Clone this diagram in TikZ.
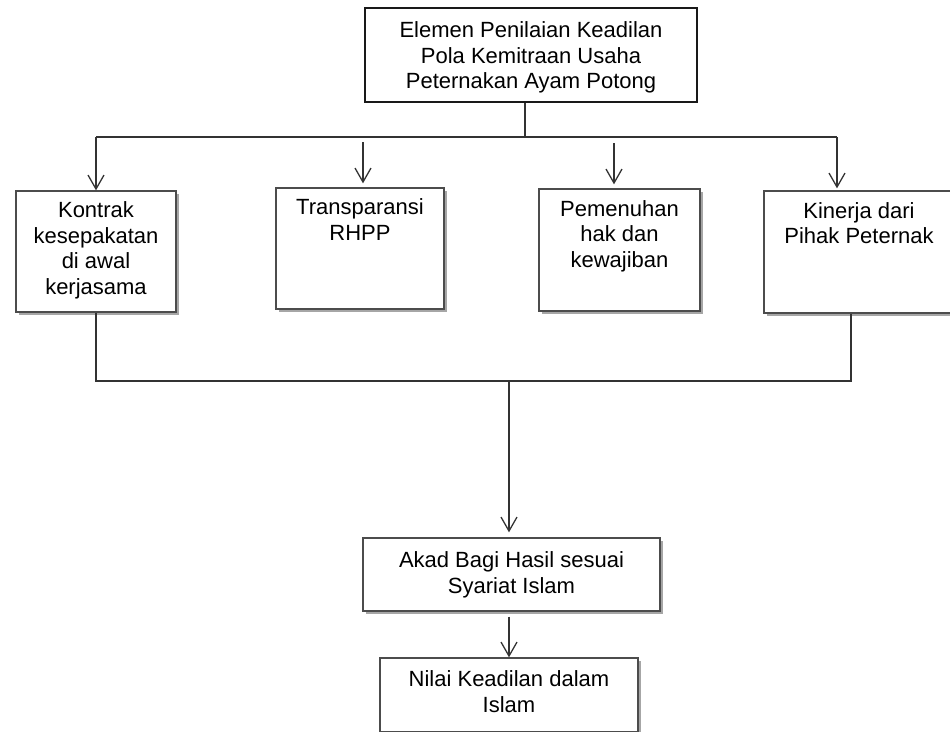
\documentclass[tikz,border=0pt]{standalone}
\usepackage{fontspec}
\setmainfont{Liberation Sans}
\usetikzlibrary{arrows.meta,shadows}
\newcommand{\bxt}[4]{\parbox[c][#1][t]{#2}{\centering\vspace*{#3}#4\par}}
\begin{document}
\begin{tikzpicture}[x=1pt,y=-1pt,
  txt/.style={font=\fontsize{22pt}{25.5pt}\selectfont, text=black},
  box/.style={txt, draw=black!70, line width=1.3pt, fill=white, inner sep=0pt,
    drop shadow={shadow xshift=2.5pt, shadow yshift=-3pt, opacity=0.35, fill=black}},
  topbox/.style={txt, draw=black!90, line width=1.8pt, fill=white, inner sep=0pt},
  ln/.style={draw=black!80, line width=1.3pt},
  arr/.style={ln, -{Straight Barb[length=14pt,width=16pt]}}]
\clip (0,0) rectangle (950,731);
\fill[white] (0,0) rectangle (950,731);

% boxes
\node[topbox] (top) at (531,55) {\bxt{94pt}{332pt}{14pt}{Elemen Penilaian Keadilan\\Pola Kemitraan Usaha\\Peternakan Ayam Potong}};
\node[box] (b1) at (96,251.5) {\bxt{121pt}{160pt}{11pt}{Kontrak\\kesepakatan\\di awal\\kerjasama}};
\node[box] (b2) at (360,248.5) {\bxt{121pt}{168pt}{11pt}{Transparansi\\RHPP}};
\node[box] (b3) at (619.5,250) {\bxt{122pt}{161pt}{11.5pt}{Pemenuhan\\hak dan\\kewajiban}};
\node[box] (b4) at (859,252) {\bxt{122pt}{190pt}{11.5pt}{Kinerja dari\\Pihak Peternak}};
\node[box] (b5) at (511.5,574.5) {\bxt{73pt}{297pt}{14pt}{Akad Bagi Hasil sesuai\\Syariat Islam}};
\node[box] (b6) at (509,695) {\bxt{74pt}{258pt}{13pt}{Nilai Keadilan dalam\\Islam}};

% top distribution
\coordinate (jt) at (525,137);
\coordinate (hl) at (96,137);
\coordinate (hr) at (837,137);
\coordinate (a2) at (363,142);
\coordinate (a3) at (614,143);
\draw[ln] (top.south -| jt) -- (jt);
\draw[ln] (hl) -- (hr);
\draw[arr] (hl) -- (b1.north);
\draw[arr, shorten >=4pt] (a2) -- (a2 |- b2.north);
\draw[arr, shorten >=4pt] (a3) -- (a3 |- b3.north);
\draw[arr, shorten >=2pt] (hr) -- (hr |- b4.north);

% bottom collection
\coordinate (bl) at (96,381);
\coordinate (br) at (851,381);
\coordinate (jb) at (509,381);
\draw[ln] (b1.south) -- (bl) -- (br) -- (br |- b4.south);
\draw[arr, shorten >=5pt] (jb) -- (jb |- b5.north);
\draw[arr, shorten <=5pt] (b5.south -| b6.north) -- (b6.north);
\end{tikzpicture}
\end{document}
